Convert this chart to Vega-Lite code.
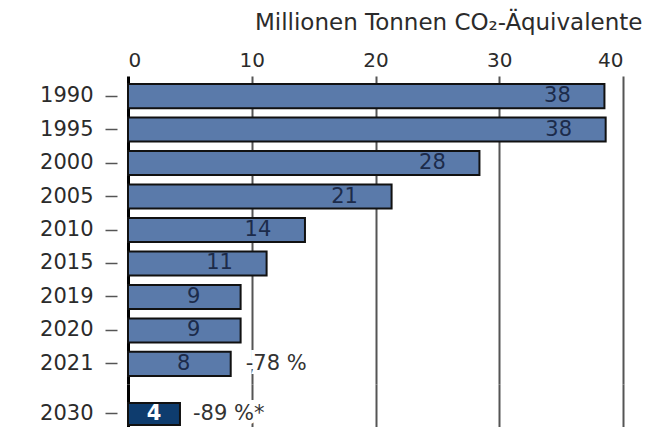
{
  "$schema": "https://vega.github.io/schema/vega-lite/v6.json",
  "autosize": {"type": "pad"},
  "padding": {"left": 39, "top": 11, "right": 0, "bottom": 0},
  "background": "white",
  "spacing": 0,
  "config": {
    "view": {"stroke": null},
    "font": "DejaVu Sans",
    "axisY": {
      "offset": 11, "tickSize": 12, "tickColor": "#555", "tickWidth": 1.5,
      "labelPadding": 12, "domain": false, "title": null, "labelFontSize": 21,
      "labelColor": "#2b2b2b", "grid": false
    }
  },
  "datasets": {
    "d": [
      {"year": "1990", "value": 38.5, "label": "38", "note": null},
      {"year": "1995", "value": 38.6, "label": "38", "note": null},
      {"year": "2000", "value": 28.4, "label": "28", "note": null},
      {"year": "2005", "value": 21.3, "label": "21", "note": null},
      {"year": "2010", "value": 14.3, "label": "14", "note": null},
      {"year": "2015", "value": 11.2, "label": "11", "note": null},
      {"year": "2019", "value": 9.1, "label": "9", "note": null},
      {"year": "2020", "value": 9.1, "label": "9", "note": null},
      {"year": "2021", "value": 8.3, "label": "8", "note": "-78 %"},
      {"year": "2030", "value": 4.2, "label": "4", "note": "-89 %*"}
    ]
  },
  "vconcat": [
    {
      "width": 495,
      "height": 308,
      "data": {"name": "d"},
      "transform": [{"filter": "datum.year !== '2030'"}],
      "encoding": {
        "y": {"field": "year", "type": "nominal", "sort": null,
              "scale": {"paddingInner": 0.28, "paddingOuter": 0.24}}
      },
      "layer": [
        {
          "mark": {"type": "bar", "fill": "#5a7aaa", "stroke": "#111", "strokeWidth": 2},
          "encoding": {
            "x": {"field": "value", "type": "quantitative",
                  "scale": {"domain": [0, 40], "nice": false},
                  "axis": {
                    "orient": "top", "values": [0, 10, 20, 30, 40],
                    "title": "Millionen Tonnen CO₂-Äquivalente",
                    "titleFontSize": 23, "titleFontWeight": "normal", "titleColor": "#2b2b2b",
                    "titlePadding": 16, "titleAnchor": "end", "titleAlign": "right", "titleX": 514,
                    "labelFontSize": 20, "labelColor": "#2b2b2b", "labelPadding": 6,
                    "ticks": false, "domain": false, "grid": true,
                    "gridColor": {"condition": {"test": "datum.value === 0", "value": "#000"}, "value": "#555"},
                    "gridWidth": {"condition": {"test": "datum.value === 0", "value": 3}, "value": 2}
                  }}
          }
        },
        {
          "mark": {"type": "text", "dx": -47, "align": "center", "fontSize": 21, "fill": "#1c2b4a"},
          "encoding": {
            "x": {"field": "value", "type": "quantitative"},
            "text": {"field": "label"}
          }
        },
        {
          "transform": [{"filter": "datum.note"}],
          "mark": {"type": "text", "dx": 15, "align": "left", "fontSize": 21, "fill": "white", "stroke": "white", "strokeWidth": 8},
          "encoding": {
            "x": {"field": "value", "type": "quantitative"},
            "text": {"field": "note"}
          }
        },
        {
          "transform": [{"filter": "datum.note"}],
          "mark": {"type": "text", "dx": 15, "align": "left", "fontSize": 21, "fill": "#333"},
          "encoding": {
            "x": {"field": "value", "type": "quantitative"},
            "text": {"field": "note"}
          }
        }
      ]
    },
    {
      "width": 495,
      "height": 43,
      "data": {"name": "d"},
      "transform": [{"filter": "datum.year === '2030'"}],
      "encoding": {
        "y": {"field": "year", "type": "nominal", "sort": null,
              "scale": {"paddingInner": 0, "paddingOuter": 0.48, "align": 0.9}}
      },
      "layer": [
        {
          "mark": {"type": "bar", "fill": "#0e3c6e", "stroke": "#111", "strokeWidth": 2},
          "encoding": {
            "x": {"field": "value", "type": "quantitative",
                  "scale": {"domain": [0, 40], "nice": false},
                  "axis": {
                    "orient": "bottom", "values": [0, 10, 20, 30, 40], "title": null,
                    "labels": false, "ticks": false, "domain": false, "grid": true,
                    "gridColor": {"condition": {"test": "datum.value === 0", "value": "#000"}, "value": "#555"},
                    "gridWidth": {"condition": {"test": "datum.value === 0", "value": 3}, "value": 2}
                  }}
          }
        },
        {
          "mark": {"type": "text", "dx": -26, "align": "center", "fontSize": 21, "fontWeight": "bold", "fill": "white"},
          "encoding": {
            "x": {"field": "value", "type": "quantitative"},
            "text": {"field": "label"}
          }
        },
        {
          "transform": [{"filter": "datum.note"}],
          "mark": {"type": "text", "dx": 13, "align": "left", "fontSize": 21, "fill": "white", "stroke": "white", "strokeWidth": 8},
          "encoding": {
            "x": {"field": "value", "type": "quantitative"},
            "text": {"field": "note"}
          }
        },
        {
          "transform": [{"filter": "datum.note"}],
          "mark": {"type": "text", "dx": 13, "align": "left", "fontSize": 21, "fill": "#333"},
          "encoding": {
            "x": {"field": "value", "type": "quantitative"},
            "text": {"field": "note"}
          }
        }
      ]
    }
  ]
}
